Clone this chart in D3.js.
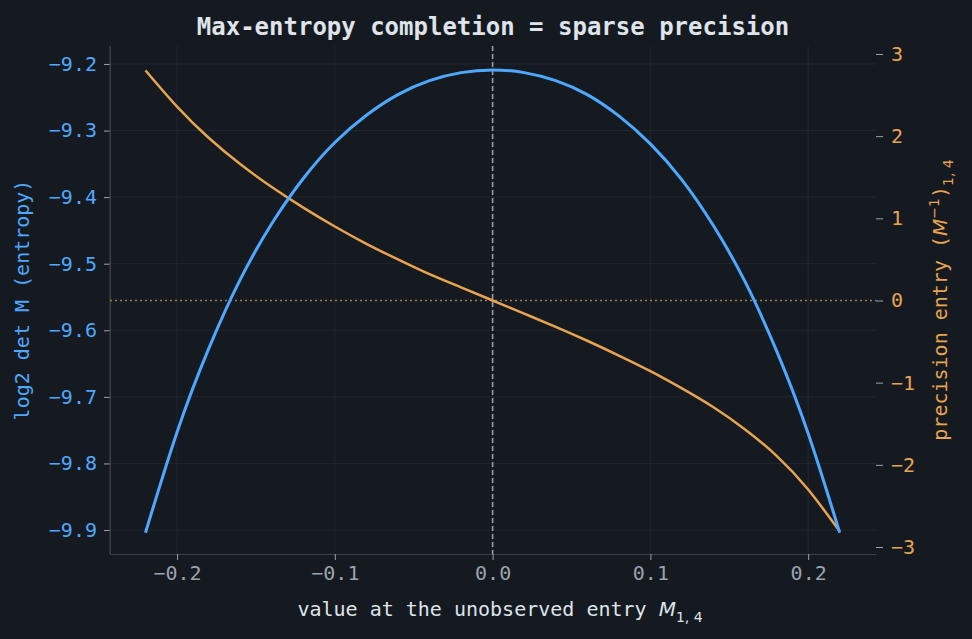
<!DOCTYPE html>
<html><head><meta charset="utf-8">
<script src="https://cdn.jsdelivr.net/npm/d3@7"></script>
<style>body{margin:0;background:#151a21;}svg{display:block;}</style>
</head><body>
<svg id="c" width="972" height="639"></svg>
<script>
const tValues = [-0.22,-0.20,-0.18,-0.16,-0.14,-0.12,-0.10,-0.08,-0.06,-0.04,-0.02,0,0.02,0.04,0.06,0.08,0.10,0.12,0.14,0.16,0.18,0.20,0.22];
const logDet = [-9.904,-9.753,-9.628,-9.524,-9.440,-9.372,-9.318,-9.277,-9.246,-9.225,-9.213,-9.209,-9.213,-9.225,-9.246,-9.278,-9.320,-9.374,-9.443,-9.527,-9.631,-9.755,-9.904];
const precision = [2.80,2.36,1.98,1.66,1.38,1.13,0.90,0.69,0.50,0.32,0.16,0,-0.16,-0.32,-0.49,-0.67,-0.86,-1.07,-1.30,-1.57,-1.89,-2.30,-2.81];
const xTicks = [-0.2,-0.1,0,0.1,0.2];
const leftTicks = [-9.2,-9.3,-9.4,-9.5,-9.6,-9.7,-9.8,-9.9];
const rightTicks = [3,2,1,0,-1,-2,-3];

const svg = d3.select("#c");
const L=110,R=876,T=46,B=554;
const mono = "'DejaVu Sans Mono', monospace";
const blue="#4ea8ff", orange="#e8a450", gray="#9aa3ae";
const x = d3.scaleLinear().domain([-0.2425,0.243]).range([L,R]);
const yl = d3.scaleLinear().domain([-9.936,-9.173]).range([B,T]);
const yr = d3.scaleLinear().domain([-3.085,3.097]).range([B,T]);

const g = svg.append("g");
g.selectAll(".gx").data(xTicks).join("line").attr("x1",d=>x(d)).attr("x2",d=>x(d)).attr("y1",T).attr("y2",B).attr("stroke","#20262f").attr("stroke-width",1);
g.selectAll(".gy").data(leftTicks).join("line").attr("x1",L).attr("x2",R).attr("y1",d=>yl(d)).attr("y2",d=>yl(d)).attr("stroke","#20262f").attr("stroke-width",1);

function style(ax,color){
  ax.select(".domain").attr("stroke","#3a414b");
  ax.selectAll(".tick line").attr("stroke",gray).attr("stroke-width",1);
  ax.selectAll(".tick text").attr("fill",color).attr("font-family",mono).attr("font-size",20);
}
const fmt = d=>d3.format(".1f")(d).replace("-","−");
const ax = svg.append("g").attr("transform",`translate(0,${B})`).call(d3.axisBottom(x).tickValues(xTicks).tickFormat(fmt).tickSize(6).tickPadding(6).tickSizeOuter(0));
style(ax,gray);
const al = svg.append("g").attr("transform",`translate(${L},0)`).call(d3.axisLeft(yl).tickValues(leftTicks).tickFormat(fmt).tickSize(6).tickPadding(7).tickSizeOuter(0));
style(al,blue);
const ar = svg.append("g").attr("transform",`translate(${R},0)`).call(d3.axisRight(yr).tickValues(rightTicks).tickFormat(d=>String(d).replace("-","−")).tickSize(7).tickPadding(8).tickSizeOuter(0));
style(ar,orange);
ar.select(".domain").remove();
svg.append("line").attr("x1",L).attr("x2",L).attr("y1",T).attr("y2",B).attr("stroke","#3a414b");

svg.append("line").attr("x1",x(0)).attr("x2",x(0)).attr("y1",T).attr("y2",B).attr("stroke","#9aa3b5").attr("stroke-width",1.5).attr("stroke-dasharray","5,3");
svg.append("line").attr("x1",L).attr("x2",R).attr("y1",yr(0)).attr("y2",yr(0)).attr("stroke","#9a7d52").attr("stroke-width",1.5).attr("stroke-dasharray","2,3");

const lb = d3.line().x((d,i)=>x(tValues[i])).y(d=>yl(d)).curve(d3.curveNatural);
const lo = d3.line().x((d,i)=>x(tValues[i])).y(d=>yr(d)).curve(d3.curveNatural);
svg.append("path").attr("d",lo(precision)).attr("fill","none").attr("stroke",orange).attr("stroke-width",2.5);
svg.append("path").attr("d",lb(logDet)).attr("fill","none").attr("stroke",blue).attr("stroke-width",3);

svg.append("text").attr("x",493).attr("y",35).attr("text-anchor","middle").attr("fill","#dfe3ea").attr("font-family",mono).attr("font-weight","bold").attr("font-size",24).text("Max-entropy completion = sparse precision");

const xl = svg.append("text").attr("x",500).attr("y",616).attr("text-anchor","middle").attr("fill","#dfe3ea").attr("font-family",mono).attr("font-size",20);
xl.append("tspan").text("value at the unobserved entry  ");
xl.append("tspan").attr("font-style","italic").attr("font-family","'DejaVu Sans', sans-serif").text("M");
xl.append("tspan").attr("font-size",14).attr("dy",6).attr("font-family","'DejaVu Sans', sans-serif").text("1, 4");

svg.append("text").attr("transform","translate(29,300) rotate(-90)").attr("text-anchor","middle").attr("fill",blue).attr("font-family",mono).attr("font-size",20).text("log2 det M  (entropy)");

const rl = svg.append("text").attr("transform","translate(947,300) rotate(-90)").attr("text-anchor","middle").attr("fill",orange).attr("font-family",mono).attr("font-size",20);
rl.append("tspan").text("precision entry  (");
rl.append("tspan").attr("font-style","italic").attr("font-family","'DejaVu Sans', sans-serif").text("M");
rl.append("tspan").attr("font-size",14).attr("dy",-8).attr("font-family","'DejaVu Sans', sans-serif").text("−1");
rl.append("tspan").attr("dy",8).text(")");
rl.append("tspan").attr("font-size",14).attr("dy",6).attr("font-family","'DejaVu Sans', sans-serif").text("1, 4");
</script>
</body></html>
